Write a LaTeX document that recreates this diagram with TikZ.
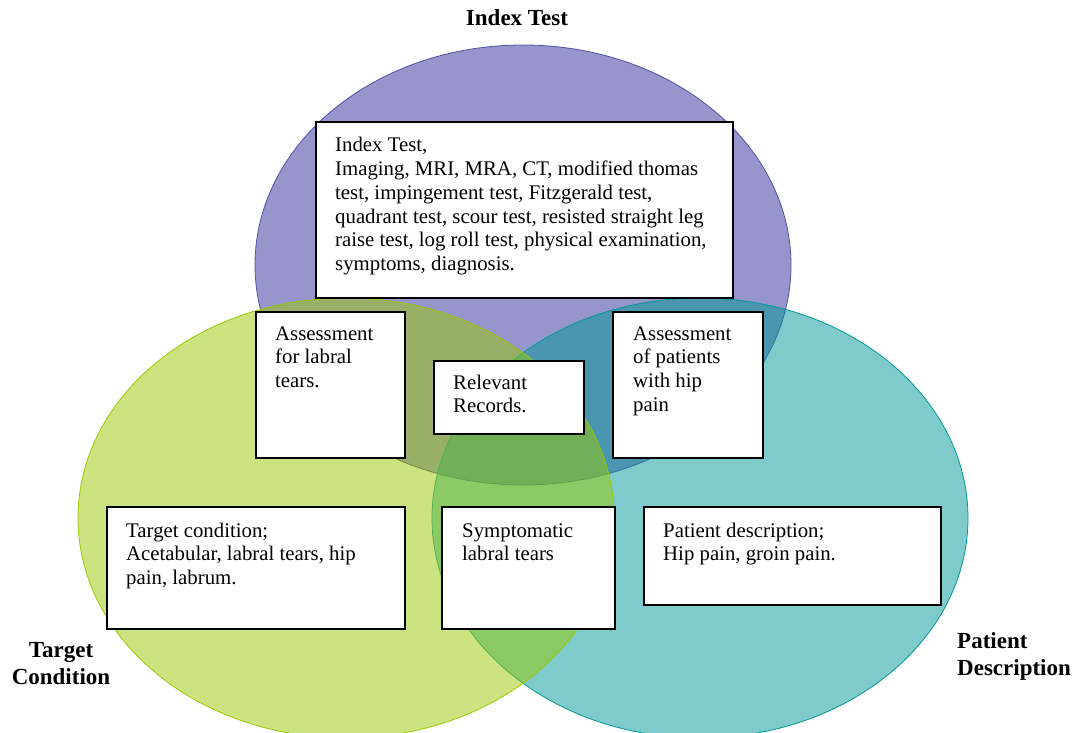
\documentclass[tikz,border=0pt]{standalone}
\usepackage{fontspec}
\setmainfont{Liberation Serif}
\definecolor{pfill}{RGB}{150,150,204}
\definecolor{pedge}{RGB}{80,80,165}
\definecolor{tfill}{RGB}{0,151,151}
\definecolor{gfill}{RGB}{153,201,1}
\newcommand\mylines[1]{\parbox[t]{480pt}{\raggedright #1}}
\newcommand\mycenterlines[1]{\parbox[t]{200pt}{\centering #1}}
\begin{document}
\begin{tikzpicture}[x=1pt,y=-1pt,
  boxstyle/.style={draw=black, line width=1.6pt, fill=white, rectangle, anchor=north west, inner sep=0pt},
  txt/.style={font=\fontsize{20.8}{23.7}\selectfont, anchor=base west, inner sep=0pt},
  lbl/.style={font=\fontsize{23}{27}\selectfont\bfseries, inner sep=0pt, anchor=base}]
\useasboundingbox (0,0) rectangle (1072,733);
\clip (0,0) rectangle (1072,733);
% ellipses
\fill[pfill] (523,265) ellipse [x radius=268, y radius=220];
\draw[pedge, line width=0.8pt] (523,265) ellipse [x radius=268, y radius=220];
\fill[tfill, fill opacity=0.5] (700,518) ellipse [x radius=268, y radius=220];
\draw[tfill, line width=0.8pt] (700,518) ellipse [x radius=268, y radius=220];
\fill[gfill, fill opacity=0.5] (346,518) ellipse [x radius=268, y radius=220];
\draw[gfill, line width=0.8pt] (346,518) ellipse [x radius=268, y radius=220];
% boxes
\node[boxstyle, minimum width=417, minimum height=176] (b1) at (315,121) {};
\node[boxstyle, minimum width=149, minimum height=146] (b2) at (255,311) {};
\node[boxstyle, minimum width=150, minimum height=73] (b3) at (433,360) {};
\node[boxstyle, minimum width=150, minimum height=146] (b4) at (612,311) {};
\node[boxstyle, minimum width=298, minimum height=122] (b5) at (106,506) {};
\node[boxstyle, minimum width=173, minimum height=122] (b6) at (441,506) {};
\node[boxstyle, minimum width=297, minimum height=98] (b7) at (643,506) {};
% texts
\node[txt] (t1) at ([shift={(20,31)}]b1.north west) {\mylines{Index Test,\\Imaging, MRI, MRA, CT, modified thomas\\test, impingement test, Fitzgerald test,\\quadrant test, scour test, resisted straight leg\\raise test, log roll test, physical examination,\\symptoms, diagnosis.}};
\node[txt] (t2) at ([shift={(20,29)}]b2.north west) {\mylines{Assessment\\for labral\\tears.}};
\node[txt] (t3) at ([shift={(20,29)}]b3.north west) {\mylines{Relevant\\Records.}};
\node[txt] (t4) at ([shift={(21,29)}]b4.north west) {\mylines{Assessment\\of patients\\with hip\\pain}};
\node[txt] (t5) at ([shift={(20,31)}]b5.north west) {\mylines{Target condition;\\Acetabular, labral tears, hip\\pain, labrum.}};
\node[txt] (t6) at ([shift={(21,31)}]b6.north west) {\mylines{Symptomatic\\labral tears}};
\node[txt] (t7) at ([shift={(20,31)}]b7.north west) {\mylines{Patient description;\\Hip pain, groin pain.}};
% labels
\node[lbl] (l1) at (517,26) {Index Test};
\node[lbl] (l2) at (61,657) {\mycenterlines{Target\\Condition}};
\node[lbl, anchor=base west] (l3) at (957,648) {\mylines{Patient\\Description}};
\end{tikzpicture}
\end{document}
